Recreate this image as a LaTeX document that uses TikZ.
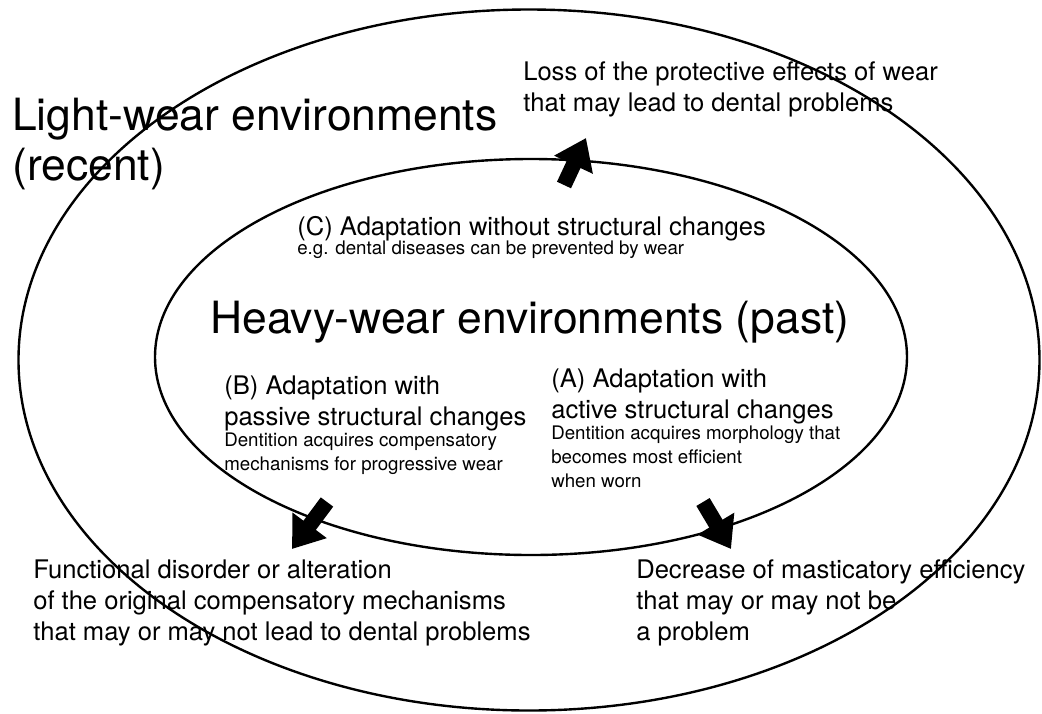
\documentclass[tikz,border=0pt]{standalone}
\usepackage{fontspec}
\setmainfont{TeX Gyre Heros}
\usetikzlibrary{arrows.meta,shapes.geometric}
\tikzset{
  ring/.style={draw, ellipse, line width=1.7pt, inner sep=0pt},
  bigtext/.style={anchor=base west, inner sep=0pt, align=left,
    font=\fontsize{31.6}{35.4}\selectfont},
  midtext/.style={anchor=base west, inner sep=0pt, align=left,
    font=\fontsize{18.2}{22}\selectfont},
  smalltext/.style={anchor=base west, inner sep=0pt, align=left,
    font=\fontsize{13.3}{17}\selectfont},
  fatarrow/.style={line width=11pt, -{Triangle[length=21pt,width=29pt]}}
}

\begin{document}
\begin{tikzpicture}[x=0.025cm, y=-0.025cm]
  \useasboundingbox (0,0) rectangle (1042,713);

  % the two environments
  \node[ring, minimum width=1021*0.025cm, minimum height=701*0.025cm] (light) at (529,360) {};
  \node[ring, minimum width=752*0.025cm, minimum height=396*0.025cm] (heavy) at (531,357) {};

  % multi-line nodes sit on the baseline of their last line
  \node[bigtext] (lightlbl) at (12,180) {Light-wear environments\\(recent)};
  \node[bigtext] (heavylbl) at (210,333) {Heavy-wear environments (past)};

  % adaptations inside the heavy-wear ring
  \node[midtext] (clbl) at (297,235) {(C) Adaptation without structural changes};
  \node[smalltext] (cnote) at (297,254) {e.g. dental diseases can be prevented by wear};
  \node[midtext] (blbl) at (224,425) {(B) Adaptation with\\passive structural changes};
  \node[smalltext] (bnote) at (224,470) {Dentition acquires compensatory\\mechanisms for progressive wear};
  \node[midtext] (albl) at (551,418) {(A) Adaptation with\\active structural changes};
  \node[smalltext] (anote) at (551,487) {Dentition acquires morphology that\\becomes most efficient\\when worn};

  % outcomes in light-wear environments
  \node[midtext] (losslbl) at (523,111) {Loss of the protective effects of wear\\that may lead to dental problems};
  \node[midtext] (funclbl) at (33,640) {Functional disorder or alteration\\of the original compensatory mechanisms\\that may or may not lead to dental problems};
  \node[midtext] (declbl) at (636,640) {Decrease of masticatory efficiency\\that may or may not be\\a problem};

  % arrows crossing the inner ring
  \coordinate (ctail) at (564,185);
  \coordinate (ctip) at (586,138);
  \coordinate (btail) at (327,502);
  \coordinate (btip) at (292,549);
  \coordinate (atail) at (703,502);
  \coordinate (atip) at (731,549);

  \draw[fatarrow] (ctail) -- (ctip);
  \draw[fatarrow] (btail) -- (btip);
  \draw[fatarrow] (atail) -- (atip);
\end{tikzpicture}
\end{document}
